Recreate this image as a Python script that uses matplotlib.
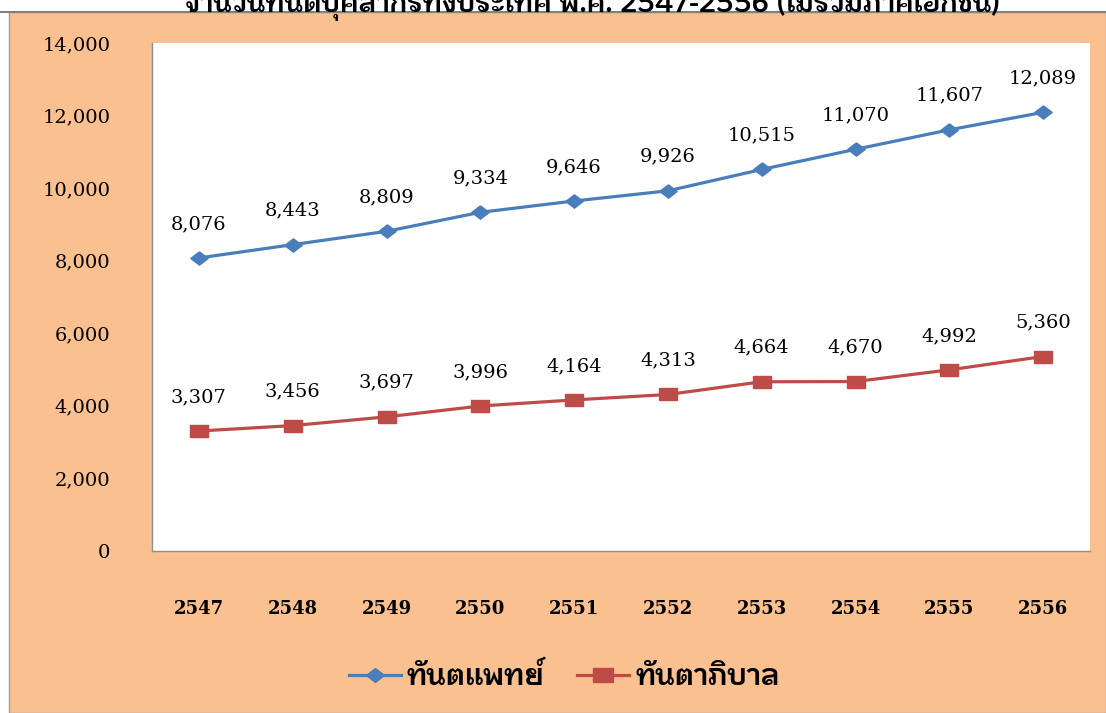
import numpy as np
import matplotlib
matplotlib.use("Agg")
import matplotlib.pyplot as plt
from matplotlib import font_manager
from matplotlib.patches import Rectangle
from matplotlib.lines import Line2D

years = ["2547", "2548", "2549", "2550", "2551", "2552", "2553", "2554", "2555", "2556"]
dentists = [8076, 8443, 8809, 9334, 9646, 9926, 10515, 11070, 11607, 12089]
dental_nurses = [3307, 3456, 3697, 3996, 4164, 4313, 4664, 4670, 4992, 5360]
series_names = ["ทันตแพทย์", "ทันตาภิบาล"]
title = "จำนวนทันตบุคลากรทั้งประเทศ พ.ศ. 2547-2556 (ไม่รวมภาคเอกชน)"


def find_thai_font():
    # pick an installed font with Thai glyphs, zero-width marks, not monospaced
    try:
        from fontTools.ttLib import TTFont
    except Exception:
        return None
    best, best_score = None, -1
    for path in font_manager.findSystemFonts():
        try:
            f = TTFont(path, fontNumber=0, lazy=True)
            cmap = f.getBestCmap()
            if not cmap or 0x0E17 not in cmap or 0x0E31 not in cmap:
                continue
            name = font_manager.FontProperties(fname=path).get_name()
            score = 1
            if "mono" not in name.lower() and "mono" not in path.lower():
                score += 4
            if f["hmtx"][cmap[0x0E31]][0] == 0:
                score += 2
            if "bold" in path.lower():
                score += 1
            if score > best_score:
                best, best_score = name, score
        except Exception:
            continue
    return best


thai = find_thai_font()
thai_family = [thai, "DejaVu Sans"] if thai else ["DejaVu Sans"]
serif = ["DejaVu Serif"]

blue = "#4A7EBB"
red = "#BE4B48"
orange = "#FAC090"

# markers are a bit wider than tall in the original
diamond = [(0, 1), (1.3, 0), (0, -1), (-1.3, 0), (0, 1)]
wide_sq = [(-1.45, -1), (1.45, -1), (1.45, 1), (-1.45, 1), (-1.45, -1)]

fig = plt.figure(figsize=(11.06, 7.13), dpi=100)
fig.patch.set_facecolor("white")
# orange chart area below the thin top rule
fig.patches.append(Rectangle((0.008, 0), 0.992, 0.983, transform=fig.transFigure,
                             facecolor=orange, edgecolor="#A0A0A0", lw=1.0, zorder=-10))

ax = fig.add_axes([152 / 1106, 1 - 551 / 713, (1090 - 152) / 1106, (551 - 43) / 713])
ax.set_zorder(5)
ax.set_facecolor("white")
x = np.arange(len(years))

ax.plot(x, dentists, color=blue, lw=2.3, marker=diamond, ms=12.5, label=series_names[0])
ax.plot(x, dental_nurses, color=red, lw=2.3, marker=wide_sq, ms=13.5, label=series_names[1])

for xi, v in zip(x, dentists):
    ax.annotate(f"{v:,}", (xi, v), xytext=(0, 18), textcoords="offset points",
                ha="center", va="bottom", fontsize=14, family=serif)
for xi, v in zip(x, dental_nurses):
    ax.annotate(f"{v:,}", (xi, v), xytext=(0, 18), textcoords="offset points",
                ha="center", va="bottom", fontsize=14, family=serif)

ax.set_xlim(-0.5, len(years) - 0.5)
ax.set_ylim(0, 14000)
ax.set_yticks(np.arange(0, 14001, 2000))
ax.set_yticklabels([f"{t:,}" for t in range(0, 14001, 2000)], family=serif, fontsize=14)
ax.set_xticks(x)
ax.set_xticklabels(years, family=serif, fontsize=13, fontweight="bold")
ax.tick_params(axis="x", length=0, pad=35)
ax.tick_params(axis="y", length=0, pad=30)
for s in ["top", "right"]:
    ax.spines[s].set_visible(False)
for s in ["left", "bottom"]:
    ax.spines[s].set_color("#909090")
    ax.spines[s].set_linewidth(1.0)

handles = [Line2D([], [], color=blue, lw=2.3, marker=diamond, ms=13),
           Line2D([], [], color=red, lw=2.3, marker=wide_sq, ms=14)]
fig.legend(handles, series_names, loc="center", bbox_to_anchor=(0.51, 1 - 677 / 713),
           ncol=2, frameon=False, handlelength=1.8, columnspacing=1.1, handletextpad=0.2,
           prop={"family": thai_family, "size": 21, "weight": "bold"})

fig.text(0.535, 0.997, title, ha="center", va="center", fontsize=20, fontweight="bold",
         family=thai_family)
# thin rule under the title strip
fig.add_artist(Line2D([0, 1], [0.983, 0.983], transform=fig.transFigure, color="#808080", lw=1.5))

fig.savefig("out.png", dpi=100, facecolor=fig.get_facecolor())
